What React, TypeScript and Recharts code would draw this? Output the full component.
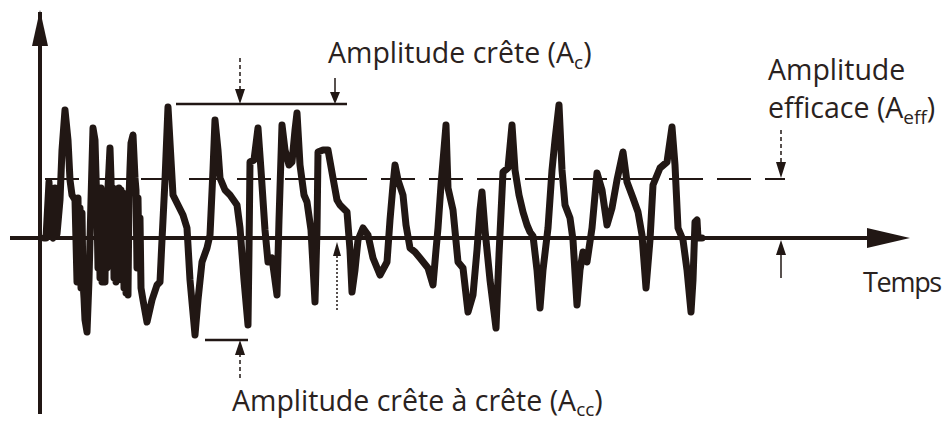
import { ComposedChart, Line, ReferenceLine, ReferenceDot, XAxis, YAxis } from "recharts";

// signal: time (px-ish units) and amplitude (0 = time axis)
const timeMs = [
  44, 46, 49, 51, 53, 55, 57, 60, 62, 65, 68, 70, 72, 75, 77, 78, 79, 80, 81, 82, 83, 84, 85, 87, 89, 91, 93, 95,
  97, 98, 99, 100, 101, 102, 103, 104, 105, 106, 107, 108, 109, 110, 111, 112, 113, 114, 115, 116, 117, 118, 119,
  120, 121, 122, 123, 124, 125, 126, 127, 128, 129, 130, 131, 133, 135, 136, 137, 138, 139, 140, 141, 143, 147,
  152, 157, 160, 162, 165, 168, 171, 173, 178, 183, 187, 190, 195, 198, 202, 207, 210, 213, 215, 218, 220, 225,
  230, 237, 240, 244, 248, 249, 250, 254, 258, 261, 265, 268, 272, 277, 279, 282, 285, 289, 292, 295, 297, 300,
  304, 307, 311, 315, 317, 318, 323, 328, 333, 337, 340, 347, 350, 352, 355, 358, 363, 368, 373, 380, 387, 390,
  393, 395, 398, 403, 406, 410, 415, 420, 428, 433, 436, 438, 441, 446, 448, 453, 458, 463, 468, 473, 477, 480,
  482, 485, 490, 496, 499, 503, 508, 512, 515, 519, 523, 527, 530, 533, 537, 540, 543, 548, 552, 555, 559, 562,
  565, 570, 573, 577, 580, 583, 587, 592, 597, 602, 607, 612, 617, 623, 627, 633, 638, 642, 646, 650, 653, 660,
  667, 672, 675, 678, 683, 687, 691, 693, 695, 697, 698, 702,
];
const amplitude = [
  0, 0, 56, 2, 0, 50, 4, 38, 88, 128, 98, 58, 43, 38, -44, 40, -40, 30, -50, 25, -44, -60, -82, -94, -42, 38, 110, 98,
  28, -30, 45, -40, 50, -44, 40, -35, -44, 45, -30, 50, 70, 90, 60, -20, 50, -40, 45, -44, 40, -35, 50,
  -40, 48, -42, 45, -50, 40, -55, 38, -57, 40, 70, 95, 103, 60, 48, -30, 40, -25, 20, -50, -62, -84,
  -62, -47, -44, -2, 58, 131, 78, 43, 33, 23, 10, -42, -97, -62, -24, -10, 3, 68, 118, 88, 60, 48,
  43, 33, 10, -42, -87, -12, 76, 78, 110, 68, 8, -24, -20, -57, 18, 113, 88, 73, 76, 108, 125, 73,
  43, 36, 8, -64, 8, 86, 88, 88, 60, 38, 33, 26, -12, -54, -32, -2, 10, 3, -20, -37, -24, 18,
  53, 73, 58, 43, 13, -10, -14, -20, -30, -47, -12, 10, 53, 113, 50, 28, -24, -30, -74, -57, -12, 28,
  46, 8, -42, -90, -17, 66, 70, 113, 68, 43, 26, 13, 6, 2, -32, -70, -32, 10, 68, 98, 133, 68,
  33, 20, -2, -67, -32, -14, -24, 10, 65, 48, 13, 30, 58, 86, 56, 40, 26, 3, -50, -2, 53, 70,
  76, 111, 73, 10, -2, -32, -74, -42, 16, 18, 0, 0,
];

// annotation levels
const peakLevel = 134;
const rmsLevel = 59;
const troughLevel = -102;
const yAxisAt = 40;
const timeAxisSpan = [10, 880];
const valueAxisSpan = [-176, 226];
const rmsSpan = [45, 785];
const peakSpan = [176, 347];
const troughSpan = [205, 248];

const signal = timeMs.map((t, i) => ({ t, v: amplitude[i] }));
const ink = "#211714";

type Dir = "up" | "down" | "right";
const head = (dir: Dir, len: number, half: number) => (props: any) => {
  const { cx, cy } = props;
  let pts = "";
  if (dir === "up") pts = `${cx},${cy} ${cx - half},${cy + len} ${cx + half},${cy + len}`;
  if (dir === "down") pts = `${cx},${cy} ${cx - half},${cy - len} ${cx + half},${cy - len}`;
  if (dir === "right") pts = `${cx},${cy} ${cx - len},${cy - half} ${cx - len},${cy + half}`;
  return <polygon points={pts} fill={ink} />;
};

const font = "'Open Sans', 'Noto Sans', sans-serif";

export default function App() {
  return (
    <div style={{ position: "absolute", left: 0, top: 0, width: 948, height: 421, background: "#fff" }}>
      <ComposedChart width={948} height={421} data={signal} margin={{ top: 0, right: 0, bottom: 0, left: 0 }}>
        <XAxis dataKey="t" type="number" domain={[0, 948]} hide />
        <YAxis type="number" domain={[-183, 238]} hide />
        {/* axes */}
        <ReferenceLine segment={[{ x: timeAxisSpan[0], y: 0 }, { x: timeAxisSpan[1], y: 0 }]} stroke={ink} strokeWidth={4} />
        <ReferenceLine segment={[{ x: yAxisAt, y: valueAxisSpan[0] }, { x: yAxisAt, y: valueAxisSpan[1] }]} stroke={ink} strokeWidth={4} />
        <ReferenceDot x={910} y={0} r={0} shape={head("right", 43, 10)} />
        <ReferenceDot x={yAxisAt} y={228} r={0} shape={head("up", 36, 8)} />
        {/* rms level */}
        <ReferenceLine segment={[{ x: rmsSpan[0], y: rmsLevel }, { x: rmsSpan[1], y: rmsLevel }]} stroke={ink} strokeWidth={2} strokeDasharray="34 14" />
        {/* peak */}
        <ReferenceLine segment={[{ x: peakSpan[0], y: peakLevel }, { x: peakSpan[1], y: peakLevel }]} stroke={ink} strokeWidth={2.5} />
        <ReferenceLine segment={[{ x: 240, y: 180 }, { x: 240, y: 148 }]} stroke={ink} strokeWidth={1.5} strokeDasharray="4 3" />
        <ReferenceDot x={240} y={peakLevel} r={0} shape={head("down", 15, 5)} />
        <ReferenceLine segment={[{ x: 335, y: 160 }, { x: 335, y: 146 }]} stroke={ink} strokeWidth={1.5} />
        <ReferenceDot x={335} y={peakLevel} r={0} shape={head("down", 12, 5)} />
        <ReferenceLine segment={[{ x: 337, y: -72 }, { x: 337, y: -18 }]} stroke={ink} strokeWidth={1.5} strokeDasharray="2 2" />
        <ReferenceDot x={337} y={-4} r={0} shape={head("up", 14, 4)} />
        {/* peak to peak */}
        <ReferenceLine segment={[{ x: troughSpan[0], y: troughLevel }, { x: troughSpan[1], y: troughLevel }]} stroke={ink} strokeWidth={2.5} />
        <ReferenceLine segment={[{ x: 240, y: -140 }, { x: 240, y: -115 }]} stroke={ink} strokeWidth={1.5} strokeDasharray="4 3" />
        <ReferenceDot x={240} y={troughLevel} r={0} shape={head("up", 15, 5)} />
        {/* rms marker */}
        <ReferenceLine segment={[{ x: 781, y: 108 }, { x: 781, y: 76 }]} stroke={ink} strokeWidth={1.5} strokeDasharray="4 3" />
        <ReferenceDot x={781} y={rmsLevel + 1} r={0} shape={head("down", 16, 5)} />
        <ReferenceLine segment={[{ x: 781, y: -40 }, { x: 781, y: -16 }]} stroke={ink} strokeWidth={1.5} />
        <ReferenceDot x={781} y={-2} r={0} shape={head("up", 15, 5)} />
        <Line
          dataKey="v"
          type="linear"
          stroke={ink}
          strokeWidth={7}
          strokeLinejoin="round"
          strokeLinecap="round"
          dot={false}
          activeDot={false}
          isAnimationActive={false}
        />
      </ComposedChart>
      <svg width={948} height={421} style={{ position: "absolute", left: 0, top: 0, pointerEvents: "none" }}>
        <g fill="#2a2220" fontFamily={font} fontSize={28.5}>
          <text x={328} y={63}>
            Amplitude crête (A<tspan fontSize={19} dy={6}>c</tspan><tspan dy={-6}>)</tspan>
          </text>
          <text x={768} y={80}>Amplitude</text>
          <text x={768} y={118}>
            efficace (A<tspan fontSize={19} dy={6}>eff</tspan><tspan dy={-6}>)</tspan>
          </text>
          <text x={863} y={292} fontSize={27} letterSpacing={-1.3}>Temps</text>
          <text x={232} y={411}>
            Amplitude crête à crête (A<tspan fontSize={19} dy={5}>cc</tspan><tspan dy={-5}>)</tspan>
          </text>
        </g>
      </svg>
    </div>
  );
}
